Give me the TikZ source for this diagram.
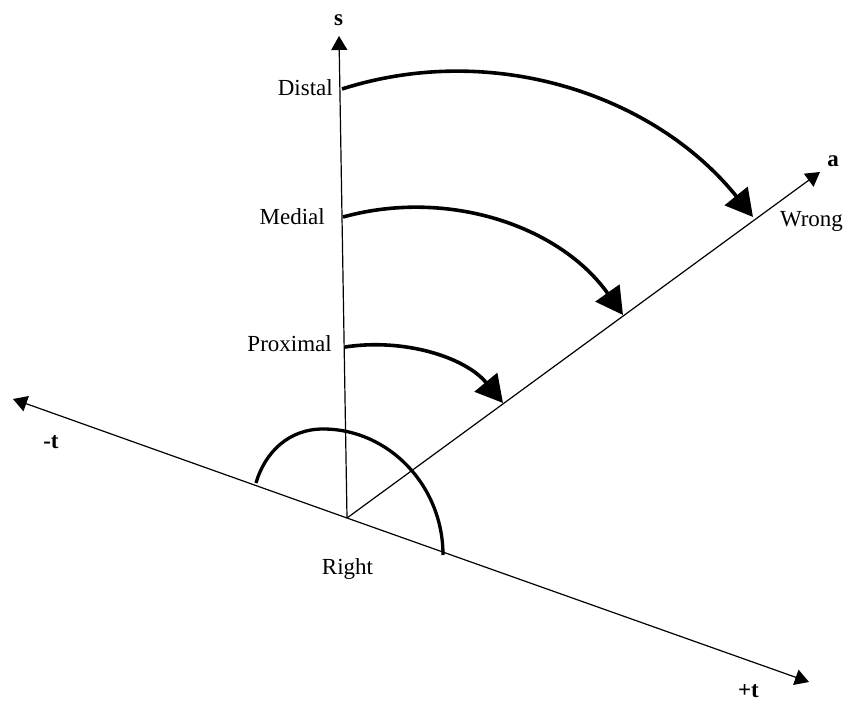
\documentclass[tikz,border=0pt]{standalone}
\usepackage{fontspec}
\setmainfont{Liberation Serif}
\usetikzlibrary{arrows.meta}

\begin{document}
\begin{tikzpicture}[x=1pt, y=-1pt,
    font=\fontsize{23}{27}\selectfont,
    axis/.style={line width=1.2pt, -{Triangle[length=14pt, width=16pt]}},
    swing/.style={line width=3.6pt, -{Triangle[length=27pt, width=29pt]}},
    tag/.style={inner sep=0pt, anchor=base}]
  \useasboundingbox (0,0) rectangle (846,703);
  % Origin and axis ends
  \coordinate (O) at (347,518);
  \coordinate (sEnd) at (339,36);
  \coordinate (aEnd) at (820,172);
  \coordinate (tMinus) at (13,399);
  \coordinate (tPlus) at (809,682);
  % Axes
  \draw[axis] (O) -- (sEnd);
  \draw[axis] (O) -- (aEnd);
  \draw[axis] (O) -- (tMinus);
  \draw[axis] (O) -- (tPlus);
  % Axis labels
  \node[tag] (sLbl) at (338.5,26) {\bfseries s};
  \node[tag] (aLbl) at (833,167) {\bfseries a};
  \node[tag] (tMinusLbl) at (51,448) {\bfseries -t};
  \node[tag] (tPlusLbl) at (748.5,697) {\bfseries +t};
  \node[tag] (wrongLbl) at (811.5,227) {Wrong};
  \node[tag] (rightLbl) at (347.5,574) {Right};
  % Half circle round the origin
  \draw[line width=3.3pt] (256,483) .. controls (265,452) and (289,429) .. (323,429)
    .. controls (389,429) and (443,486) .. (443,555);
  % Levels on the s axis
  \node[tag, anchor=base east] (distalLbl) at (333,96) {Distal};
  \node[tag, anchor=base east] (medialLbl) at (325,225) {Medial};
  \node[tag, anchor=base east] (proximalLbl) at (332,352) {Proximal};
  \coordinate (distalS) at (342,89);
  \coordinate (medialS) at (343,217);
  \coordinate (proximalS) at (345,347);
  \coordinate (distalA) at (753,217);
  \coordinate (medialA) at (623,315);
  \coordinate (proximalA) at (503,403);
  % Swing arrows from s to a
  \draw[swing] (distalS) .. controls (492,41) and (654,94) .. (distalA);
  \draw[swing] (medialS) .. controls (448,188) and (560,226) .. (medialA);
  \draw[swing] (proximalS) .. controls (404,338) and (465,357) .. (proximalA);
\end{tikzpicture}
\end{document}
